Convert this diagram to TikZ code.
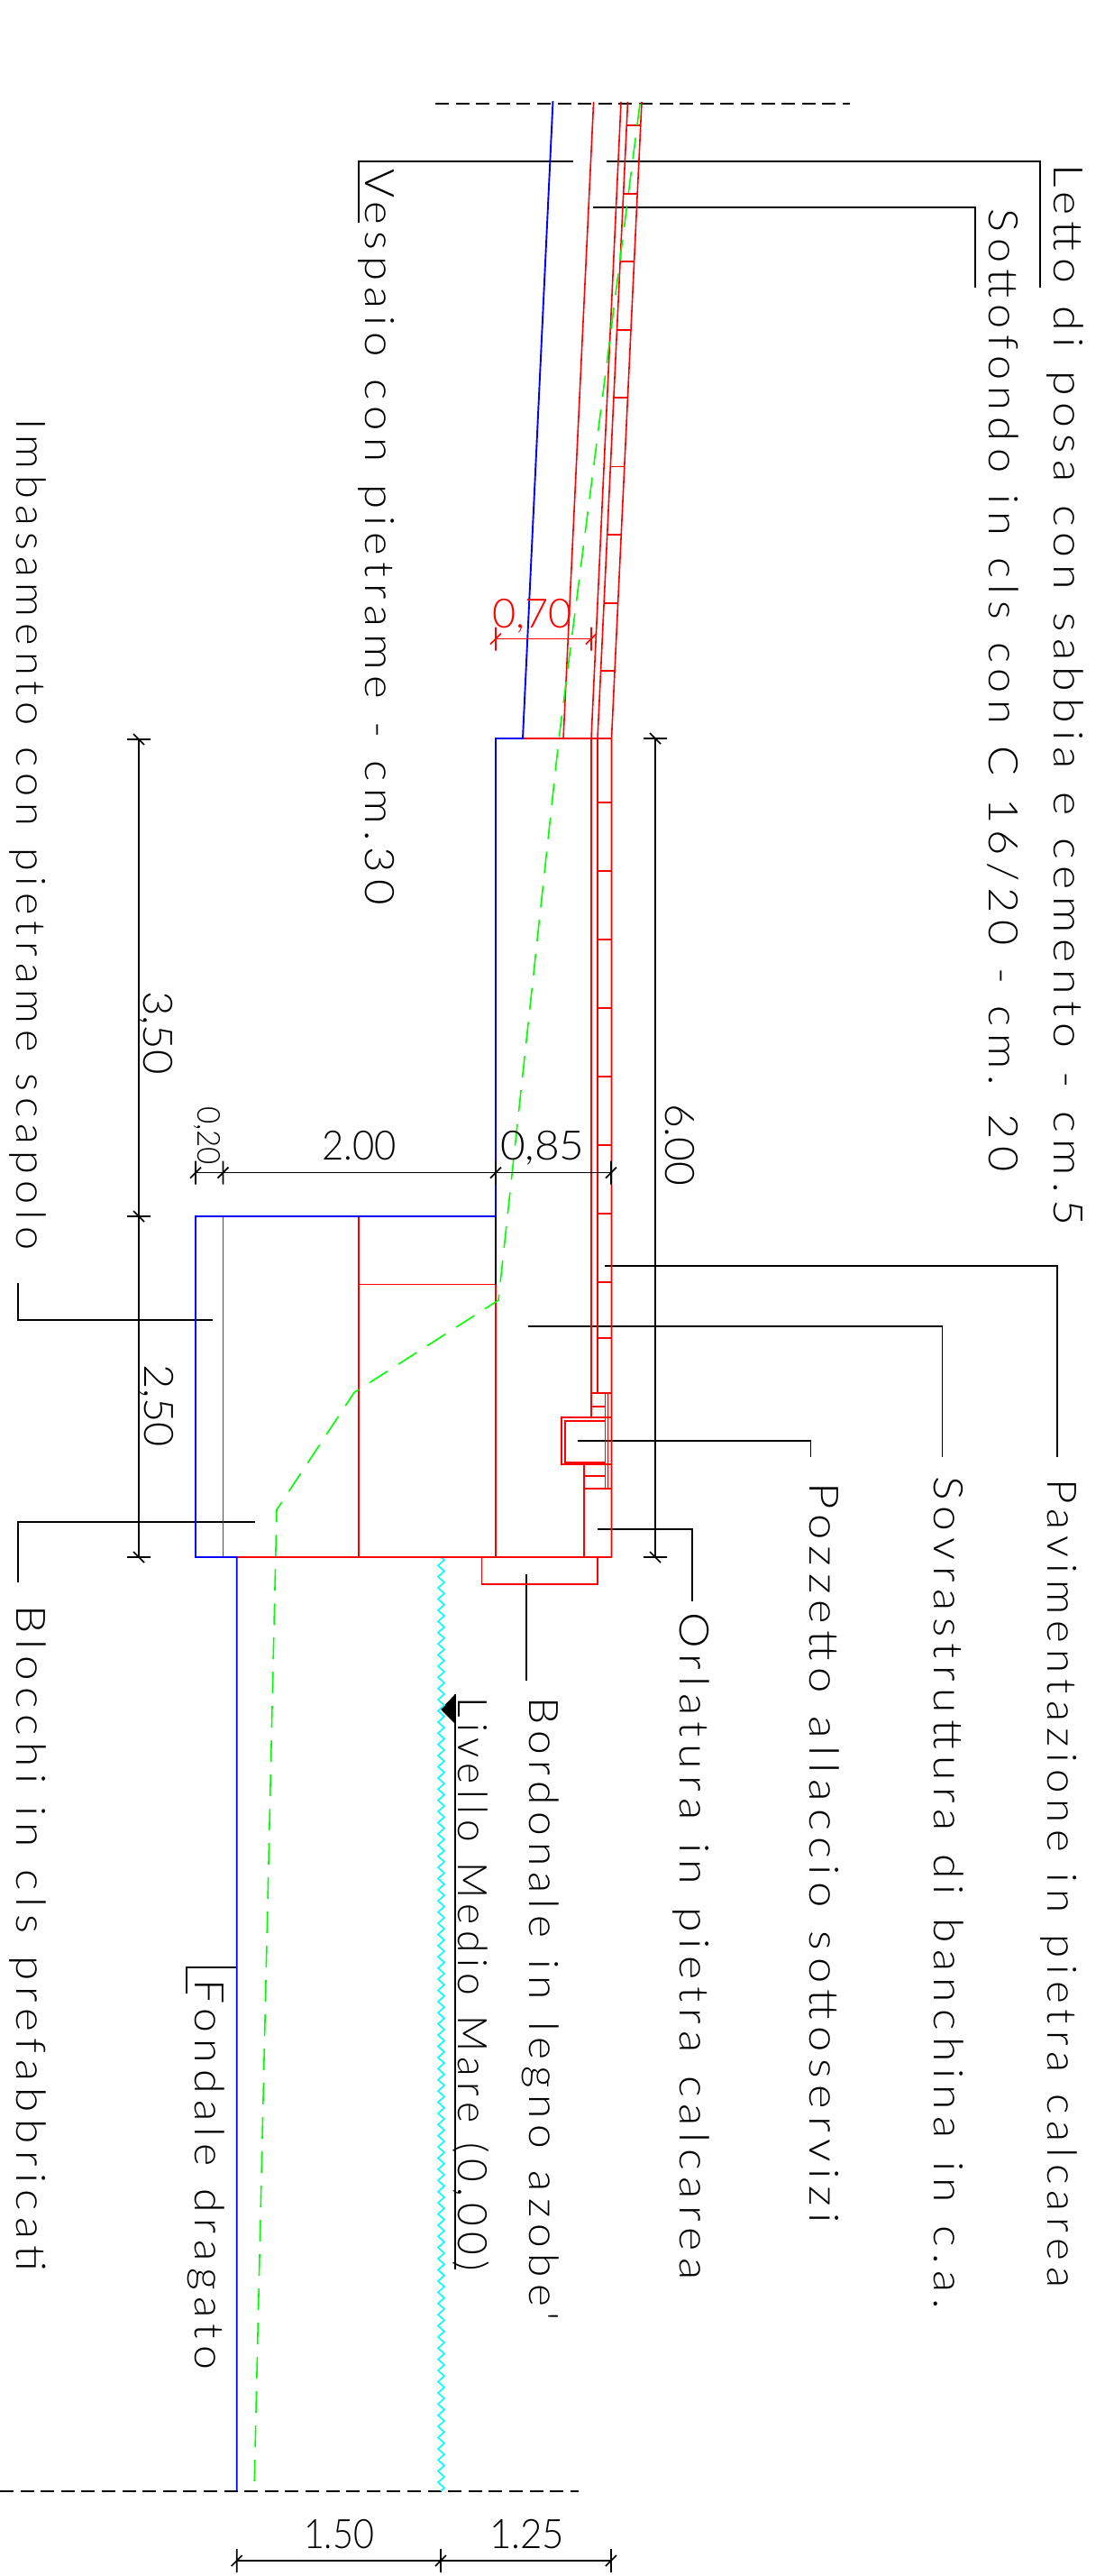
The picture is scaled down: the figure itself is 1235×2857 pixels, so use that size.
\documentclass[tikz,border=0pt]{standalone}
\usepackage{graphicx}
\usepackage{fontspec}
\usetikzlibrary{decorations.pathmorphing}
\newfontfamily\cadfont{Lato Light}
\newfontfamily\spacedfont[LetterSpace=15,WordSpace=1.2]{Lato Light}
\definecolor{cadblue}{RGB}{0,0,255}
\definecolor{cadred}{RGB}{255,0,0}
\definecolor{cadgreen}{RGB}{0,255,0}
\definecolor{cadcyan}{RGB}{0,255,255}
\tikzset{
  inkline/.style={draw=black,line width=1.6pt},
  redline/.style={draw=cadred,line width=1.6pt},
  blueline/.style={draw=cadblue,line width=1.9pt},
  greendash/.style={draw=cadgreen,line width=1.6pt,dash pattern=on 24pt off 14pt},
  axisdash/.style={draw=black,line width=1.4pt,dash pattern=on 15pt off 7.6pt},
  waterline/.style={draw=cadcyan,line width=1.6pt,decorate,decoration={zigzag,segment length=12.4pt,amplitude=3.5pt}},
  vlabel/.style={rotate=-90,anchor=base west,inner sep=0pt,outer sep=0pt},
  hlabel/.style={anchor=base west,inner sep=0pt,outer sep=0pt}
}
% name, baseline x, start y, end y, font size, text
\newcommand{\vlab}[6]{\node[vlabel] (#1) at (#2,#3) {\resizebox{\dimexpr#4pt-#3pt\relax}{\height}{\fontsize{#5}{#5}\cadfont #6}};}
% name, x start, x end, baseline y, font size, text
\newcommand{\hlab}[6]{\node[hlabel] (#1) at (#2,#4) {\resizebox{\dimexpr#3pt-#2pt\relax}{\height}{\fontsize{#5}{#5}\cadfont #6}};}
\newcommand{\htick}[3][inkline]{\draw[#1] (#2,#3-13) -- (#2,#3+13) (#2-6,#3+6) -- (#2+6,#3-6);}
\newcommand{\vtick}[3][inkline]{\draw[#1] (#2-13,#3) -- (#2+13,#3) (#2-6,#3-6) -- (#2+6,#3+6);}
\begin{document}
\begin{tikzpicture}[x=1pt,y=-1pt]
\useasboundingbox (0,0) rectangle (1235,2857);
\fill[white] (0,0) rectangle (1235,2857);

% axes
\draw[axisdash] (483,115) -- (943,115);
\draw[axisdash] (0,2763) -- (642,2763);

% leaders
\draw[inkline] (398,247) -- (398,179) -- (636,179);
\draw[inkline] (673,179) -- (1154,179) -- (1154,319);
\draw[inkline] (657.5,230) -- (1081.7,230) -- (1081.7,319);
\draw[inkline] (671,1404) -- (1173,1404) -- (1173,1616);
\draw[inkline] (586,1471) -- (1045.6,1471) -- (1045.6,1616);
\draw[inkline] (641,1598) -- (899.6,1598) -- (899.6,1616);
\draw[inkline] (663,1696) -- (768,1696) -- (768,1776);
\draw[inkline] (584,1746) -- (584,1864);
\draw[inkline] (236,1464) -- (20,1464) -- (20,1423);
\draw[inkline] (283,1688) -- (20,1688) -- (20,1755);
\draw[inkline] (206.7,2211) -- (206.7,2182) -- (262.7,2182);
\draw[inkline] (505,1879) -- (505,2517);
\fill[black] (489,1895.7) -- (505,1879) -- (505,1912) -- cycle;

% water level
\draw[waterline] (489.5,1727) -- (489.5,2763);

% red structure
\draw[redline] (658.6,113) -- (625,819);
\draw[redline] (689,113) -- (656,819) -- (656,1572);
\draw[redline] (696.5,113) -- (663,819) -- (663,1545);
\draw[redline] (712,113) -- (678.5,819) -- (678.5,1727);
\foreach \hy in {139,215,290,366,441,517.5,593,669,744}{
  \pgfmathsetmacro{\xa}{696.5-(\hy-113)/706*33.5}
  \pgfmathsetmacro{\xb}{712-(\hy-113)/706*33.5}
  \draw[redline] (\xa,\hy) -- (\xb,\hy);
}
\foreach \hy in {890,966,1042,1118,1194,1270,1346,1422,1484}{
  \draw[redline] (663,\hy) -- (678.5,\hy);
}
\draw[redline] (580,819) -- (678.5,819);
\draw[redline] (247.5,1349) -- (247.5,1727);
\draw[redline] (398,1349) -- (398,1727);
\draw[redline] (398,1424.6) -- (550,1424.6);
\draw[redline] (550,1424.6) -- (550,1727);
\draw[redline] (262.7,1727) -- (678.5,1727);
\draw[redline] (534.6,1727) -- (534.6,1757) -- (663,1757) -- (663,1727);
% manhole detail
\draw[redline] (656,1545) -- (678.5,1545);
\draw[redline] (671.5,1545) -- (671.5,1651);
\draw[redline] (674.5,1545) -- (674.5,1651);
\draw[redline] (656,1560) -- (671.5,1560);
\draw[redline] (623,1572) rectangle (671.5,1624);
\draw[redline] (627,1575.7) rectangle (671.5,1621.7);
\draw[redline] (671.5,1572) -- (678.5,1572);
\draw[redline] (671.5,1624) -- (678.5,1624);
\draw[redline] (647.7,1624) -- (647.7,1727);
\draw[redline] (647.7,1636.7) -- (671.5,1636.7);
\draw[redline] (647.7,1651) -- (678.5,1651);

% blue outline
\draw[blueline] (613.5,112) -- (580,819) -- (550,819) -- (550,1349) -- (217,1349) -- (217,1727) -- (262.7,1727) -- (262.7,2763);
\draw[inkline] (550,1349) -- (550,1424.6);

% green profile
\draw[greendash] (710,115) -- (620,820) -- (553,1442) -- (393,1544.4) -- (307,1674.5) -- (282,2763);

% dimensions
\draw[inkline] (727,819) -- (727,1727);
\vtick{727}{819} \vtick{727}{1727}
\draw[inkline] (154,820) -- (154,1727);
\vtick{154}{820} \vtick{154}{1349} \vtick{154}{1727}
\draw[inkline] (217,1300.6) -- (678,1300.6);
\htick{217}{1300.6} \htick{247.5}{1300.6} \htick{550}{1300.6} \htick{678}{1300.6}
\draw[inkline] (262.7,2840) -- (678,2840);
\htick{262.7}{2840} \htick{489}{2840} \htick{678}{2840}
\draw[redline] (550,708.5) -- (656,708.5);
\htick[redline]{550}{708.5} \htick[redline]{656}{708.5}

% dimension texts
\hlab{dseventy}{546}{634.5}{696}{45pt}{\color{cadred}0,70}
\hlab{dtwo}{357.5}{440}{1286}{45pt}{2.00}
\hlab{deightyfive}{555}{648.5}{1286}{45pt}{0,85}
\hlab{donefifty}{337}{415}{2826}{45pt}{1.50}
\hlab{donetwentyfive}{543}{626}{2826}{45pt}{1.25}
\vlab{dtwenty}{219}{1227}{1292}{35pt}{0,20}
\vlab{dthreefifty}{159}{1099}{1192}{45pt}{3,50}
\vlab{dtwofifty}{160}{1513}{1605}{45pt}{2,50}
\vlab{dsix}{738}{1224}{1315}{45pt}{6.00}

% labels
\vlab{letto}{1169}{182}{1359}{45pt}{\spacedfont Letto di posa con sabbia e cemento - cm.5}
\vlab{sotto}{1097}{231}{1299}{45pt}{\spacedfont Sottofondo in cls con C 16/20 - cm. 20}
\vlab{vespaio}{405}{187}{1004}{45pt}{\spacedfont Vespaio con pietrame - cm.30}
\vlab{imba}{18}{464}{1386}{45pt}{\spacedfont Imbasamento con pietrame scapolo}
\vlab{pavi}{1162}{1640}{2537}{45pt}{\spacedfont Pavimentazione in pietra calcarea}
\vlab{sovra}{1036}{1637}{2561}{45pt}{\spacedfont Sovrastruttura di banchina in c.a.}
\vlab{pozz}{898}{1644}{2466}{45pt}{\spacedfont Pozzetto allaccio sottoservizi}
\vlab{orla}{754.6}{1788}{2528}{45pt}{\spacedfont Orlatura in pietra calcarea}
\vlab{bord}{587}{1882}{2574}{45pt}{\spacedfont Bordonale in legno azobe'}
\vlab{live}{508}{1882}{2519}{45pt}{\spacedfont Livello Medio Mare (0,00)}
\vlab{fond}{216}{2195}{2628}{45pt}{\spacedfont Fondale dragato}
\vlab{bloc}{18}{1780}{2519}{45pt}{\spacedfont Blocchi in cls prefabbricati}
\end{tikzpicture}
\end{document}
